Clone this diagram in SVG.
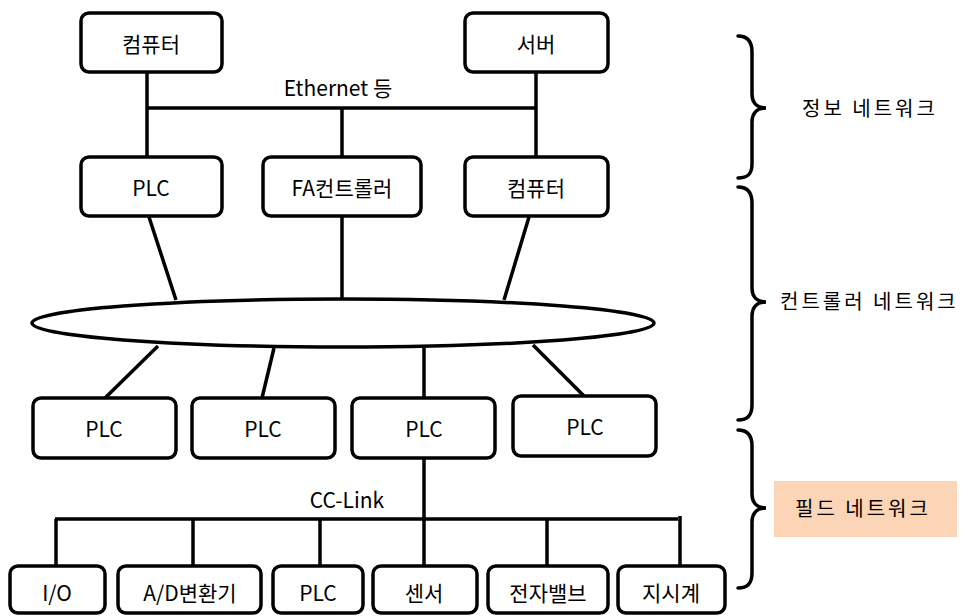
<svg xmlns="http://www.w3.org/2000/svg" width="968" height="616" viewBox="0 0 968 616">
  <style>
    .box { fill: #ffffff; stroke: #000000; stroke-width: 3.5; }
    .wire { fill: none; stroke: #000000; stroke-width: 3.5; }
    .brace { fill: none; stroke: #000000; stroke-width: 3.5; stroke-linecap: round; }
    .lbl { font-family: "Noto Sans CJK KR", "Noto Sans", sans-serif; font-size: 21px; fill: #000000; text-anchor: middle; dominant-baseline: central; }
    .side { font-family: "Noto Sans CJK KR", "Noto Sans", sans-serif; font-size: 20px; letter-spacing: 3px; fill: #000000; dominant-baseline: central; }
  </style>
  <rect width="968" height="616" fill="#ffffff"/>

  <!-- connectors -->
  <g id="connectors">
    <!-- Ethernet bus -->
    <line class="wire" x1="147" y1="72" x2="147" y2="157"/>
    <line class="wire" x1="536" y1="72" x2="536" y2="157"/>
    <line class="wire" x1="147" y1="108" x2="536" y2="108"/>
    <line class="wire" x1="342" y1="108" x2="342" y2="157"/>
    <!-- controller tier to ring -->
    <line class="wire" x1="149" y1="217" x2="176" y2="300"/>
    <line class="wire" x1="342" y1="217" x2="342" y2="299"/>
    <line class="wire" x1="529" y1="217" x2="504" y2="300"/>
    <!-- ring to PLCs -->
    <line class="wire" x1="158" y1="346" x2="105" y2="398"/>
    <line class="wire" x1="274" y1="348" x2="262" y2="398"/>
    <line class="wire" x1="424" y1="348" x2="424" y2="398"/>
    <line class="wire" x1="533" y1="345" x2="584" y2="396"/>
    <!-- CC-Link bus -->
    <line class="wire" x1="424" y1="458" x2="424" y2="565"/>
    <line class="wire" x1="55" y1="519" x2="678" y2="519"/>
    <line class="wire" x1="56" y1="519" x2="56" y2="565"/>
    <line class="wire" x1="193" y1="519" x2="193" y2="565"/>
    <line class="wire" x1="320" y1="519" x2="320" y2="565"/>
    <line class="wire" x1="547" y1="519" x2="547" y2="565"/>
    <line class="wire" x1="680" y1="516" x2="680" y2="565"/>
  </g>

  <!-- network ring -->
  <g id="ring">
    <ellipse class="box" cx="343" cy="323" rx="311" ry="24"/>
  </g>

  <g id="bus-labels">
    <text class="lbl" x="338" y="87">Ethernet 등</text>
    <text class="lbl" x="347" y="499">CC-Link</text>
  </g>

  <!-- information tier -->
  <g id="pc-top"><rect class="box" x="81" y="13" width="141" height="59" rx="8"/><text class="lbl" x="151" y="43">컴퓨터</text></g>
  <g id="server"><rect class="box" x="465" y="13" width="143" height="59" rx="8"/><text class="lbl" x="536" y="43">서버</text></g>

  <!-- controller tier -->
  <g id="plc-a"><rect class="box" x="81" y="157" width="141" height="59" rx="8"/><text class="lbl" x="151" y="187">PLC</text></g>
  <g id="fa-controller"><rect class="box" x="263" y="157" width="158" height="59" rx="8"/><text class="lbl" x="342" y="187">FA컨트롤러</text></g>
  <g id="pc-mid"><rect class="box" x="465" y="157" width="143" height="59" rx="8"/><text class="lbl" x="536" y="187">컴퓨터</text></g>

  <!-- PLC tier -->
  <g id="plc-1"><rect class="box" x="33" y="398" width="143" height="60" rx="8"/><text class="lbl" x="104" y="428">PLC</text></g>
  <g id="plc-2"><rect class="box" x="192" y="398" width="143" height="60" rx="8"/><text class="lbl" x="263" y="428">PLC</text></g>
  <g id="plc-3"><rect class="box" x="352" y="398" width="143" height="60" rx="8"/><text class="lbl" x="424" y="428">PLC</text></g>
  <g id="plc-4"><rect class="box" x="513" y="396" width="143" height="60" rx="8"/><text class="lbl" x="585" y="426">PLC</text></g>

  <!-- field devices -->
  <g id="io"><rect class="box" x="10" y="566" width="95" height="47" rx="8"/><text class="lbl" x="57" y="592">I/O</text></g>
  <g id="ad"><rect class="box" x="118" y="566" width="143" height="47" rx="8"/><text class="lbl" x="190" y="592">A/D변환기</text></g>
  <g id="plc-field"><rect class="box" x="273" y="566" width="90" height="47" rx="8"/><text class="lbl" x="318" y="592">PLC</text></g>
  <g id="sensor"><rect class="box" x="373" y="566" width="104" height="47" rx="8"/><text class="lbl" x="424" y="592">센서</text></g>
  <g id="valve"><rect class="box" x="488" y="566" width="120" height="47" rx="8"/><text class="lbl" x="548" y="592">전자밸브</text></g>
  <g id="meter"><rect class="box" x="618" y="566" width="107" height="47" rx="8"/><text class="lbl" x="671" y="592">지시계</text></g>

  <!-- tier braces -->
  <g id="braces">
    <path class="brace" d="M738,36 C748,36 752,42 752,52 L752,94 C752,103 757,108 766,108 C757,108 752,113 752,122 L752,164 C752,174 748,178 738,178"/>
    <path class="brace" d="M738,187 C748,187 752,193 752,203 L752,288 C752,297 757,302 766,302 C757,302 752,307 752,316 L752,405 C752,415 748,420 738,420"/>
    <path class="brace" d="M738,430 C748,430 752,436 752,446 L752,494 C752,503 757,508 766,508 C757,508 752,513 752,522 L752,573 C752,583 748,588 738,588"/>
  </g>

  <!-- tier labels -->
  <g id="tier-info"><text class="side" x="802" y="107">정보 네트워크</text></g>
  <g id="tier-controller"><text class="side" x="780" y="300">컨트롤러 네트워크</text></g>
  <g id="tier-field">
    <rect x="774" y="481" width="183" height="56" fill="#fbd5b5"/>
    <text class="side" x="795" y="507">필드 네트워크</text>
  </g>
</svg>
